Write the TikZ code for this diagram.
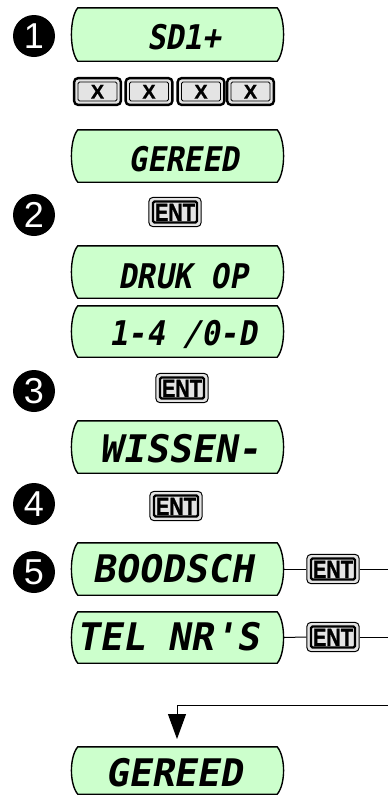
\documentclass[tikz,border=0pt]{standalone}
\usepackage{fontspec}
\setmainfont{Liberation Sans}
\newfontfamily\lcda[FakeSlant=0.18,FakeStretch=0.9]{DejaVu Sans Mono}
\newfontfamily\lcdb[FakeSlant=0.18]{DejaVu Sans Mono}
\newfontfamily\entfont[FakeStretch=0.8,FakeBold=1.2]{Liberation Sans}
\newfontfamily\xfont[FakeBold=0.8]{Liberation Sans}
\usetikzlibrary{arrows.meta,calc}
\pgfdeclarelayer{bg}\pgfsetlayers{bg,main}
\definecolor{lcdgreen}{RGB}{204,255,204}
\definecolor{keygray}{RGB}{228,228,228}
\tikzset{
 lcdbox/.style={rectangle, minimum width=211pt, minimum height=#1, inner sep=0pt},
 lcdtexta/.style={font=\lcda\bfseries\fontsize{34}{34}\selectfont, inner sep=0pt, text height=24.8pt, text depth=0pt},
 lcdtextb/.style={font=\lcdb\bfseries\fontsize{38}{38}\selectfont, inner sep=0pt, text height=27.7pt, text depth=0pt},
 entkey/.style={rectangle, rounded corners=1.5pt, draw=black, line width=2.2pt, fill=keygray, inner sep=0pt, minimum width=44pt, minimum height=21pt, font=\entfont\bfseries\fontsize{25}{25}\selectfont, text height=17.9pt, text depth=0pt},
 entframe/.style={draw=black, line width=1pt, fill=keygray, rounded corners=4pt},
 xkey/.style={rectangle, rounded corners=1.5pt, draw=black, line width=0.8pt, fill=keygray, inner sep=0pt, minimum width=39pt, minimum height=19pt, font=\xfont\bfseries\fontsize{20}{20}\selectfont, text height=14.3pt, text depth=0pt},
 xframe/.style={draw=black, line width=2.4pt, fill=keygray, rounded corners=4pt},
 stepnum/.style={circle, fill=black, minimum size=42pt, inner sep=0pt, text=white, font=\fontsize{36}{36}\selectfont, text height=25.8pt, text depth=0pt},
 conn/.style={draw=black, line width=1pt},
 lcdline/.style={draw=black, line width=1.4pt, fill=lcdgreen}
}
\newcommand\lcdshape[1]{%
 \path[lcdline] ($(#1.north west)+(6,0)$) -- ($(#1.north east)+(-6,0)$)
  .. controls ($(#1.north east)+(2.5,10)$) and ($(#1.south east)+(2.5,-10)$) .. ($(#1.south east)+(-6,0)$)
  -- ($(#1.south west)+(6,0)$)
  .. controls ($(#1.south west)+(-2.5,-10)$) and ($(#1.north west)+(-2.5,10)$) .. cycle;}
\newcommand\keyframe[3]{%
 \path[#2] ($(#1.north west)+(-#3,-#3)$) rectangle ($(#1.south east)+(#3,#3)$);}
\begin{document}
\begin{tikzpicture}[x=1pt,y=-1pt]
\useasboundingbox (0,0) rectangle (388,796);
% step circles
\node[stepnum] (s1) at (34,36) {1};
\node[stepnum] (s2) at (34,215) {2};
\node[stepnum] (s3) at (34,391) {3};
\node[stepnum] (s4) at (34,504) {4};
\node[stepnum] (s5) at (34,572) {5};
% lcd boxes
\node[lcdbox=53pt] (d1) at (177.5,34.5) {};
\node[lcdbox=52pt] (d2) at (177.5,156) {};
\node[lcdbox=52pt] (d3) at (177.5,272) {};
\node[lcdbox=51pt] (d4) at (177.5,331.5) {};
\node[lcdbox=52pt] (d5) at (177.5,447) {};
\node[lcdbox=52pt] (d6) at (177.5,569) {};
\node[lcdbox=51pt] (d7) at (177.5,637.5) {};
\node[lcdbox=47pt] (d8) at (177.5,770.5) {};
% lcd texts
\node[lcdtexta] (t1) at (184,37.5) {SD1+};
\node[lcdtexta] (t2) at (184,159.5) {GEREED};
\node[lcdtexta] (t3) at (183,276) {DRUK OP};
\node[lcdtexta] (t4) at (183,333) {1-4 /0-D};
\node[lcdtextb] (t5) at (180,449) {WISSEN-};
\node[lcdtextb] (t6) at (173,569) {BOODSCH};
\node[lcdtextb] (t7) at (168,637) {TEL NR'S};
\node[lcdtextb] (t8) at (174,773) {GEREED};
% x keys
\node[xkey] (x1) at (97.5,91.5) {X};
\node[xkey] (x2) at (149,91.5) {X};
\node[xkey] (x3) at (201,91.5) {X};
\node[xkey] (x4) at (250.5,91.5) {X};
% ent keys
\node[entkey] (e2) at (175,212) {ENT};
\node[entkey] (e3) at (182,388) {ENT};
\node[entkey] (e4) at (176,506) {ENT};
\node[entkey] (e5) at (333,569) {ENT};
\node[entkey] (e6) at (333,637) {ENT};
\begin{pgfonlayer}{bg}
\lcdshape{d1}\lcdshape{d2}\lcdshape{d3}\lcdshape{d4}
\lcdshape{d5}\lcdshape{d6}\lcdshape{d7}\lcdshape{d8}
\keyframe{x1}{xframe}{3.5}\keyframe{x2}{xframe}{3.5}
\keyframe{x3}{xframe}{3.5}\keyframe{x4}{xframe}{3.5}
\keyframe{e2}{entframe}{3}\keyframe{e3}{entframe}{3}
\keyframe{e4}{entframe}{3}\keyframe{e5}{entframe}{3}
\keyframe{e6}{entframe}{3}
\end{pgfonlayer}
% connectors
\coordinate (r1) at (388,569);
\coordinate (r2) at (388,637);
\coordinate (r3) at (388,705);
\coordinate (tip) at (177,739);
\draw[conn] (d6.east) -- ($(e5.west)+(-3.5,0)$);
\draw[conn] ($(e5.east)+(3.5,0)$) -- (r1);
\draw[conn] (d7.east) -- ($(e6.west)+(-3.5,0)$);
\draw[conn] ($(e6.east)+(3.5,0)$) -- (r2);
\draw[conn,-{Triangle[width=18pt,length=25pt]}] (r3) -| (tip);
\end{tikzpicture}
\end{document}
